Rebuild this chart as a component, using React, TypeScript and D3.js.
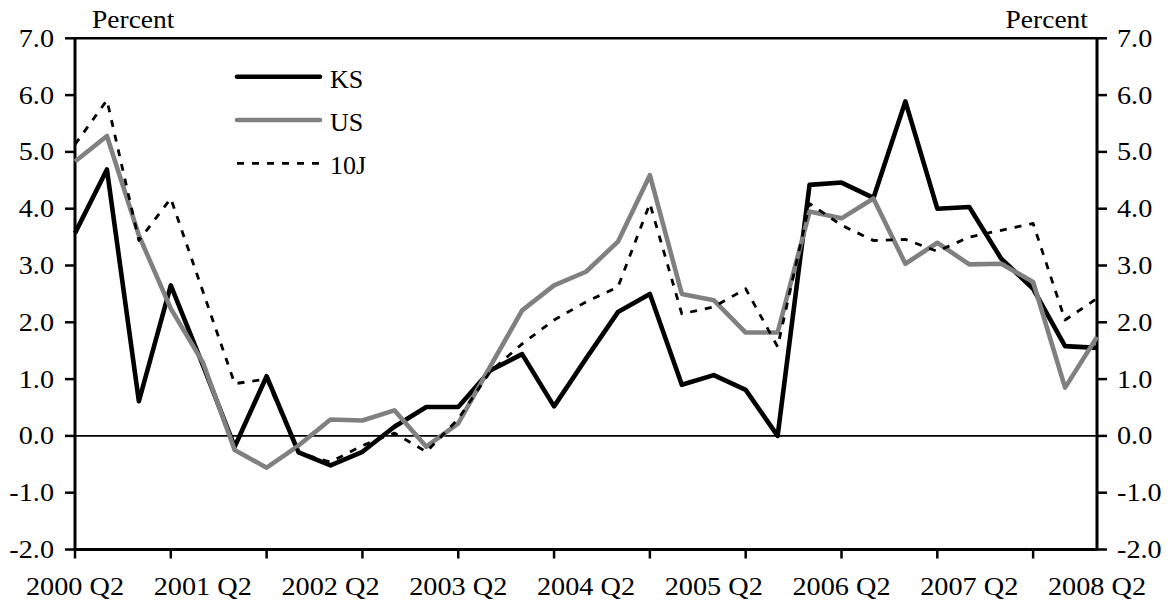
import React from "react";
import * as d3 from "d3";

const quarters: string[] = [];
for (let y = 2000; y <= 2008; y++) {
  for (const q of ["Q2", "Q3", "Q4", "Q1"]) {
    if (y === 2008 && q !== "Q2") break;
    quarters.push(q === "Q1" ? `${y + 1} Q1` : `${y} ${q}`);
  }
}
const categories = quarters.slice(0, 33);

const ksValues = [
  3.57, 4.69, 0.61, 2.65, 1.25, -0.19, 1.05, -0.29, -0.52, -0.28, 0.16,
  0.51, 0.51, 1.15, 1.44, 0.52, 1.36, 2.18, 2.5, 0.9, 1.07, 0.81, 0.0,
  4.42, 4.46, 4.19, 5.89, 4.0, 4.03, 3.12, 2.59, 1.58, 1.55,
];
const usValues = [
  4.83, 5.28, 3.53, 2.24, 1.3, -0.25, -0.56, -0.17, 0.29, 0.27, 0.45,
  -0.19, 0.22, 1.22, 2.21, 2.65, 2.89, 3.42, 4.59, 2.5, 2.39, 1.82, 1.82,
  3.95, 3.83, 4.18, 3.03, 3.4, 3.02, 3.03, 2.71, 0.85, 1.74,
];
const tenJValues = [
  5.13, 5.91, 3.44, 4.18, 2.55, 0.92, 1.0, -0.3, -0.46, -0.17, 0.05,
  -0.28, 0.3, 1.13, 1.62, 2.04, 2.36, 2.62, 4.09, 2.15, 2.27, 2.59, 1.57,
  4.09, 3.71, 3.44, 3.46, 3.25, 3.5, 3.62, 3.74, 2.04, 2.42,
];
const yTicks = [-2, -1, 0, 1, 2, 3, 4, 5, 6, 7];
const seriesNames = ["KS", "US", "10J"];

const W = 1172;
const H = 611;
const left = 75;
const right = 1097;
const top = 38.3;
const bottom = 549.5;
const FONT = "'Liberation Serif', 'Times New Roman', serif";
const FS = 25;
const SX = 1.13;

export default function App() {
  const x = d3.scaleLinear().domain([0, categories.length - 1]).range([left, right]);
  const y = d3.scaleLinear().domain([-2, 7]).range([bottom, top]);
  const line = d3
    .line<number>()
    .x((_, i) => x(i))
    .y((d) => y(d));

  const series = [
    { name: seriesNames[0], values: ksValues, color: "#000", width: 4.6, dash: undefined as string | undefined },
    { name: seriesNames[1], values: usValues, color: "#808080", width: 4.6, dash: undefined },
    { name: seriesNames[2], values: tenJValues, color: "#000", width: 2.8, dash: "7 8" },
  ];

  const tickIdx = d3.range(0, categories.length, 3);
  const labelIdx = d3.range(0, categories.length, 4);

  const fmt = (v: number) => d3.format(".1f")(v).replace("\u2212", "-");

  return (
    <div style={{ position: "absolute", left: 0, top: 0 }}>
      <svg width={W} height={H} style={{ display: "block", background: "#fff" }} fontFamily={FONT}>
        {/* zero line */}
        <line x1={left} x2={right} y1={y(0)} y2={y(0)} stroke="#000" strokeWidth={1.6} />
        {/* frame */}
        <line x1={left} x2={right} y1={top} y2={top} stroke="#000" strokeWidth={2.5} />
        <line x1={left} x2={right} y1={bottom} y2={bottom} stroke="#000" strokeWidth={2.8} />
        <line x1={left} x2={left} y1={top} y2={bottom} stroke="#000" strokeWidth={3} />
        <line x1={right} x2={right} y1={top} y2={bottom} stroke="#000" strokeWidth={3} />
        {/* y ticks */}
        {yTicks.map((t) => (
          <g key={t}>
            <line x1={left - 10} x2={left} y1={y(t)} y2={y(t)} stroke="#000" strokeWidth={2.5} />
            <line x1={right} x2={right + 10} y1={y(t)} y2={y(t)} stroke="#000" strokeWidth={2.5} />
            <text
              transform={`translate(${left - 21},${y(t) + 8.5}) scale(${SX},1)`}
              textAnchor="end"
              fontSize={FS}
            >
              {fmt(t)}
            </text>
            <text
              transform={`translate(${right + 20},${y(t) + 8.5}) scale(${SX},1)`}
              textAnchor="start"
              fontSize={FS}
            >
              {fmt(t)}
            </text>
          </g>
        ))}
        {/* x ticks */}
        {tickIdx.map((i) => (
          <line key={i} x1={x(i)} x2={x(i)} y1={bottom} y2={bottom + 9} stroke="#000" strokeWidth={2.5} />
        ))}
        {labelIdx.map((i) => (
          <text
            key={i}
            transform={`translate(${x(i)},${595}) scale(${SX},1)`}
            textAnchor="middle"
            fontSize={FS}
          >
            {categories[i]}
          </text>
        ))}
        {/* axis titles */}
        <text transform={`translate(${92},${28}) scale(1.1,1)`} fontSize={FS}>Percent</text>
        <text transform={`translate(${1088},${28}) scale(1.1,1)`} fontSize={FS} textAnchor="end">Percent</text>
        {/* series */}
        {series.map((s) => (
          <path
            key={s.name}
            d={line(s.values) || ""}
            fill="none"
            stroke={s.color}
            strokeWidth={s.width}
            strokeDasharray={s.dash}
            strokeLinejoin="round"
          />
        ))}
        {/* legend */}
        {series.map((s, k) => {
          const ly = 76.7 + k * 43.3;
          return (
            <g key={s.name}>
              <line
                x1={237}
                x2={320}
                y1={ly}
                y2={ly}
                stroke={s.color}
                strokeWidth={s.width}
                strokeDasharray={s.dash}
                strokeLinecap={s.dash ? "butt" : "round"}
              />
              <text x={330} y={ly + 11} fontSize={26}>
                {s.name}
              </text>
            </g>
          );
        })}
      </svg>
    </div>
  );
}
